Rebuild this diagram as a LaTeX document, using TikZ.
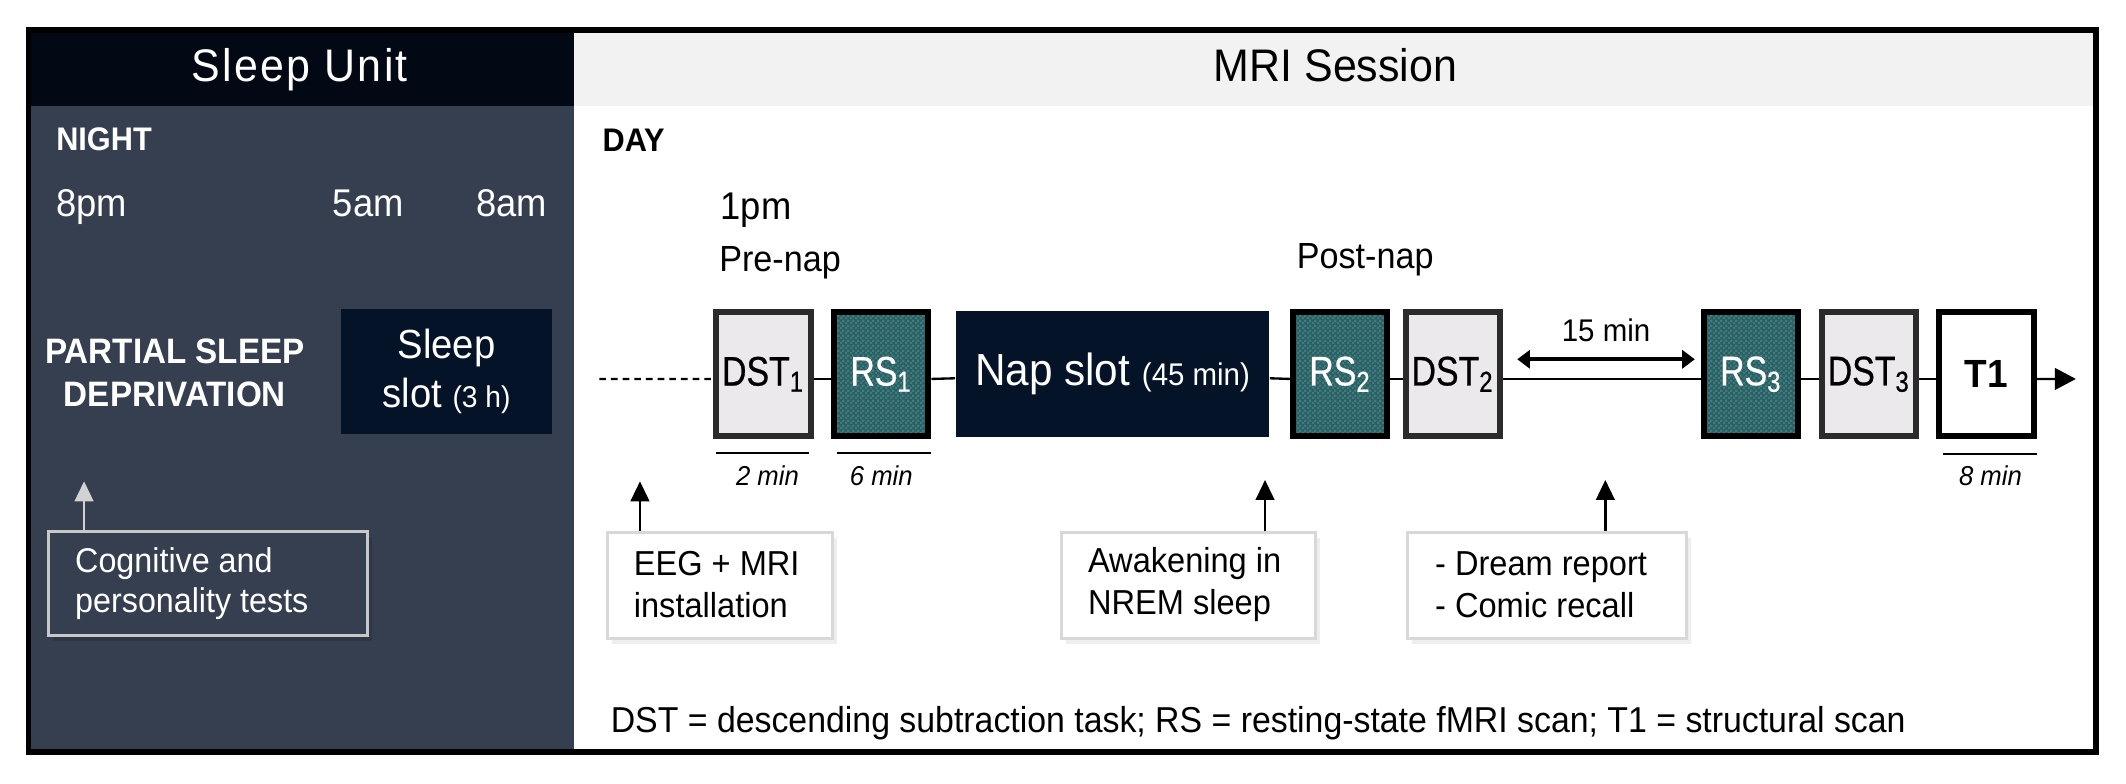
\documentclass[tikz,border=0pt]{standalone}
\usepackage{fontspec}
\setmainfont{Liberation Sans}[FakeStretch=0.94]
\newfontfamily\condfont{Liberation Sans}[FakeStretch=0.82,FakeBold=0.6]
\newfontfamily\spacedfont{Liberation Sans}[FakeStretch=0.94,LetterSpace=5]
\usetikzlibrary{arrows.meta,shadows,patterns}
\definecolor{slate}{RGB}{54,63,80}
\definecolor{darkhead}{RGB}{3,9,20}
\definecolor{lighthead}{RGB}{242,242,242}
\definecolor{navy}{RGB}{4,19,40}
\definecolor{dstfill}{RGB}{235,233,236}
\definecolor{dstborder}{RGB}{43,43,43}
\definecolor{tealbase}{RGB}{42,96,99}
\definecolor{teallight}{RGB}{64,122,124}
\definecolor{callborder}{RGB}{216,216,216}
\definecolor{cogborder}{RGB}{200,200,200}
\definecolor{cogarrow}{RGB}{210,210,210}
\pgfdeclarepatternformonly{fineck}{\pgfqpoint{0pt}{0pt}}{\pgfqpoint{1.4pt}{1.4pt}}{\pgfqpoint{1.4pt}{1.4pt}}{%
  \pgfpathrectangle{\pgfqpoint{0pt}{0pt}}{\pgfqpoint{0.7pt}{0.7pt}}%
  \pgfpathrectangle{\pgfqpoint{0.7pt}{0.7pt}}{\pgfqpoint{0.7pt}{0.7pt}}%
  \pgfusepath{fill}}
\tikzset{
  every node/.style={inner sep=0pt},
  stagebox/.style={line width=1.8pt, minimum width=28.3pt, minimum height=37.3pt},
  dstbox/.style={stagebox, draw=dstborder, fill=dstfill, font=\condfont\fontsize{12.4}{12}\selectfont},
  rsbox/.style={stagebox, draw=black, preaction={fill=tealbase}, pattern=fineck, pattern color=teallight, text=white, font=\condfont\fontsize{12.4}{12}\selectfont},
  tonebox/.style={stagebox, draw=black, fill=white, font=\bfseries\fontsize{11.8}{12}\selectfont},
  slotbox/.style={fill=navy, text=white},
  callbox/.style={draw=callborder, line width=0.9pt, fill=white, minimum height=31.7pt,
    drop shadow={opacity=0.13, shadow xshift=1.4pt, shadow yshift=-1.6pt}},
  calltext/.style={anchor=west, align=left, font=\fontsize{10.4}{12.6}\selectfont},
  tline/.style={line width=0.7pt},
  dashline/.style={line width=0.7pt, dash pattern=on 2pt off 1.5pt},
  uline/.style={line width=0.7pt},
  uparrow/.style={line width=0.7pt, -{Triangle[width=5.6pt,length=6pt]}},
  endarrow/.style={line width=0.7pt, -{Triangle[width=6.5pt,length=6.3pt]}},
  dimarrow/.style={line width=1.1pt, {Triangle[width=5.4pt,length=3.8pt]}-{Triangle[width=5.4pt,length=3.8pt]}},
  durtext/.style={anchor=base, font=\itshape\fontsize{8.2}{10}\selectfont},
}
\begin{document}
\begin{tikzpicture}[x=0.4068pt,y=-0.4068pt]
\useasboundingbox (0,0) rectangle (1568,578);
\fill[white] (0,0) rectangle (1568,578);
% panels
\fill[slate] (21,22) rectangle (423.5,555);
\fill[darkhead] (21,22) rectangle (423.5,78);
\fill[lighthead] (423.5,22) rectangle (1546,78);
\draw[line width=1.7pt] (21,22) rectangle (1546,554.5);

% headers
\node[anchor=base, text=white, font=\spacedfont\fontsize{13.7}{16}\selectfont] (hsleep) at (221,60) {Sleep Unit};
\node[anchor=base, font=\fontsize{13.7}{16}\selectfont] (hmri) at (985,60) {MRI Session};

% left panel
\node[anchor=base west, text=white, font=\bfseries\fontsize{9.8}{12}\selectfont] (night) at (41,111) {NIGHT};
\node[anchor=base west, text=white, font=\fontsize{11.6}{13}\selectfont] (t8pm) at (41,160) {8pm};
\node[anchor=base west, text=white, font=\fontsize{11.6}{13}\selectfont] (t5am) at (245,160) {5am};
\node[anchor=base west, text=white, font=\fontsize{11.6}{13}\selectfont] (t8am) at (351,160) {8am};
\node[align=center, text=white, font=\bfseries\fontsize{10.6}{13}\selectfont] (psd) at (129,275) {PARTIAL SLEEP\\DEPRIVATION};
\node[slotbox, minimum width=63.3pt, minimum height=37.4pt, align=center, font=\fontsize{12.2}{14.6}\selectfont] (sslot) at (329.3,274) {Sleep\\slot {\fontsize{9}{10}\selectfont(3 h)}};
\node[draw=cogborder, fill=slate, line width=0.9pt, minimum width=95.6pt, minimum height=31.3pt,
  drop shadow={opacity=0.12, shadow xshift=1.4pt, shadow yshift=-1.6pt, fill=black}] (cog) at (153.5,430.5) {};
\node[calltext, text=white, font=\fontsize{10.3}{11.9}\selectfont] (cogt) at (55,430.5) {Cognitive and\\personality tests};
\coordinate (tipcog) at (62,355);
\draw[uparrow, draw=cogarrow, fill=cogarrow] (cog.north -| tipcog) -- (tipcog);

% right panel texts
\node[anchor=base west, font=\bfseries\fontsize{9.8}{12}\selectfont] (day) at (444,112) {DAY};
\node[anchor=base west, font=\fontsize{11.6}{13}\selectfont] (t1pm) at (531,162) {1pm};
\node[anchor=base west, font=\fontsize{10.9}{13}\selectfont] (prenap) at (530,200) {Pre-nap};
\node[anchor=base west, font=\fontsize{10.9}{13}\selectfont] (postnap) at (956,198) {Post-nap};

% timeline boxes
\node[dstbox] (dst1) at (563,276) {DST\textsubscript{1}};
\node[rsbox] (rs1) at (650,276) {RS\textsubscript{1}};
\node[slotbox, minimum width=94pt, minimum height=37.8pt, font=\fontsize{13.5}{15}\selectfont] (nap) at (820.5,275.5) {Nap slot {\fontsize{9.4}{10}\selectfont(45 min)}};
\node[rsbox] (rs2) at (988.5,276) {RS\textsubscript{2}};
\node[dstbox] (dst2) at (1071.5,276) {DST\textsubscript{2}};
\node[rsbox] (rs3) at (1291.5,276) {RS\textsubscript{3}};
\node[dstbox] (dst3) at (1378.5,276) {DST\textsubscript{3}};
\node[tonebox] (t1) at (1465,276) {T1};

% timeline connectors
\coordinate (tlstart) at (442,279.5);
\coordinate (tlend) at (1531,279.5);
\draw[dashline] (tlstart) -- ([yshift=-1.42pt]dst1.west);
\draw[tline] ([yshift=-1.42pt]dst1.east) -- ([yshift=-1.42pt]rs1.west);
\draw[tline] ([yshift=-1.42pt]rs1.east) -- ([yshift=-1.42pt]nap.west);
\draw[tline] ([yshift=-1.42pt]nap.east) -- ([yshift=-1.42pt]rs2.west);
\draw[tline] ([yshift=-1.42pt]rs2.east) -- ([yshift=-1.42pt]dst2.west);
\draw[tline] ([yshift=-1.42pt]dst2.east) -- ([yshift=-1.42pt]rs3.west);
\draw[tline] ([yshift=-1.42pt]rs3.east) -- ([yshift=-1.42pt]dst3.west);
\draw[tline] ([yshift=-1.42pt]dst3.east) -- ([yshift=-1.42pt]t1.west);
\draw[endarrow] ([yshift=-1.42pt]t1.east) -- (tlend);

% 15 min
\coordinate (m15a) at (1119,265);
\coordinate (m15b) at (1250,265);
\draw[dimarrow] (m15a) -- (m15b);
\node[anchor=base, font=\fontsize{9.4}{11}\selectfont] (l15) at (1184.5,252) {15 min};

% durations
\draw[uline] (528,334) -- (597,334);
\draw[uline] (617,334) -- (687,334);
\draw[uline] (1433,335) -- (1502,335);
\node[durtext] (d2) at (566,358) {2 min};
\node[durtext] (d6) at (650,358) {6 min};
\node[durtext] (d8) at (1468,358) {8 min};

% callouts
\node[callbox, minimum width=67.5pt] (eeg) at (531,432) {};
\node[calltext] (eegt) at (467,431) {EEG + MRI\\installation};
\node[callbox, minimum width=76pt] (awk) at (876.5,432) {};
\node[calltext] (awkt) at (802,431) {Awakening in\\NREM sleep};
\node[callbox, minimum width=83.8pt] (drm) at (1141,432) {};
\node[calltext] (drmt) at (1058,431) {- Dream report\\- Comic recall};
\coordinate (tipeeg) at (472,355);
\coordinate (tipawk) at (933,354);
\coordinate (tipdrm) at (1184,354);
\draw[uparrow] (eeg.north -| tipeeg) -- (tipeeg);
\draw[uparrow] (awk.north -| tipawk) -- (tipawk);
\draw[uparrow] (drm.north -| tipdrm) -- (tipdrm);

% legend
\node[anchor=base west, font=\fontsize{10.8}{12}\selectfont] (legend) at (450,540) {DST = descending subtraction task; RS = resting-state fMRI scan; T1 = structural scan};
\end{tikzpicture}
\end{document}
